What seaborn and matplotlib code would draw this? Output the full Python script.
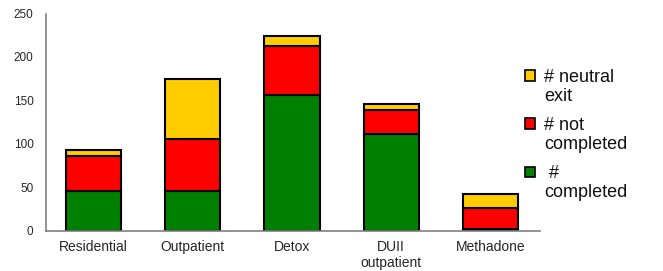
import matplotlib
matplotlib.use("Agg")
import matplotlib.pyplot as plt
import seaborn as sns
import numpy as np
import pandas as pd
from matplotlib.patches import Rectangle

categories = ["Residential", "Outpatient", "Detox", "DUII\noutpatient", "Methadone"]
completed = [45, 45, 156, 111, 2]
not_completed = [41, 60, 57, 28, 24]
neutral_exit = [7, 70, 11, 7, 16]
y_ticks = [0, 50, 100, 150, 200, 250]
legend_labels = ["# neutral\nexit", "# not\ncompleted", " #\ncompleted"]

GREEN = "#008000"
RED = "#FF0000"
YELLOW = "#FFCC00"

sns.set_style("white")
plt.rcParams["font.family"] = ["Liberation Sans", "DejaVu Sans"]

W, H = 663, 271
fig = plt.figure(figsize=(W / 100, H / 100), dpi=100)
ax = fig.add_axes([46 / W, 1 - 230.5 / H, (540 - 46) / W, (230.5 - 13.5) / H])

df = pd.DataFrame({"cat": categories, "completed": completed,
                   "not_completed": not_completed, "neutral": neutral_exit})
b1 = np.array(completed)
b2 = b1 + np.array(not_completed)

common = dict(width=0.555, edgecolor="black", linewidth=1.5, ax=ax, saturation=1)
sns.barplot(data=df, x="cat", y="completed", color=GREEN, **common)
sns.barplot(data=df, x="cat", y="not_completed", bottom=b1, color=RED, **common)
sns.barplot(data=df, x="cat", y="neutral", bottom=b2, color=YELLOW, **common)

ax.set_xlim(-0.48, 4.5)
ax.set_ylim(0, 250)
ax.set_yticks(y_ticks)
ax.set_xlabel("")
ax.set_ylabel("")
ax.tick_params(axis="y", length=0, pad=9, labelsize=8.5)
ax.tick_params(axis="x", length=0, pad=7, labelsize=10)
for s in ["top", "right"]:
    ax.spines[s].set_visible(False)
for s in ["left", "bottom"]:
    ax.spines[s].set_color("#808080")
    ax.spines[s].set_linewidth(1.2)

# legend, drawn in figure pixel coordinates
leg_colors = [YELLOW, RED, GREEN]
centers = [75.5, 123.5, 171.5]
sq = 10
for lab, col, cy in zip(legend_labels, leg_colors, centers):
    fig.add_artist(Rectangle((525 / W, 1 - (cy + sq / 2) / H), sq / W, sq / H,
                             facecolor=col, edgecolor="black", linewidth=1.2,
                             transform=fig.transFigure))
    fig.text(544 / W, 1 - (cy - 7) / H, lab, fontsize=13, va="top", ha="left",
             linespacing=1.22, color="#111111")

fig.savefig("out.png", dpi=100)
